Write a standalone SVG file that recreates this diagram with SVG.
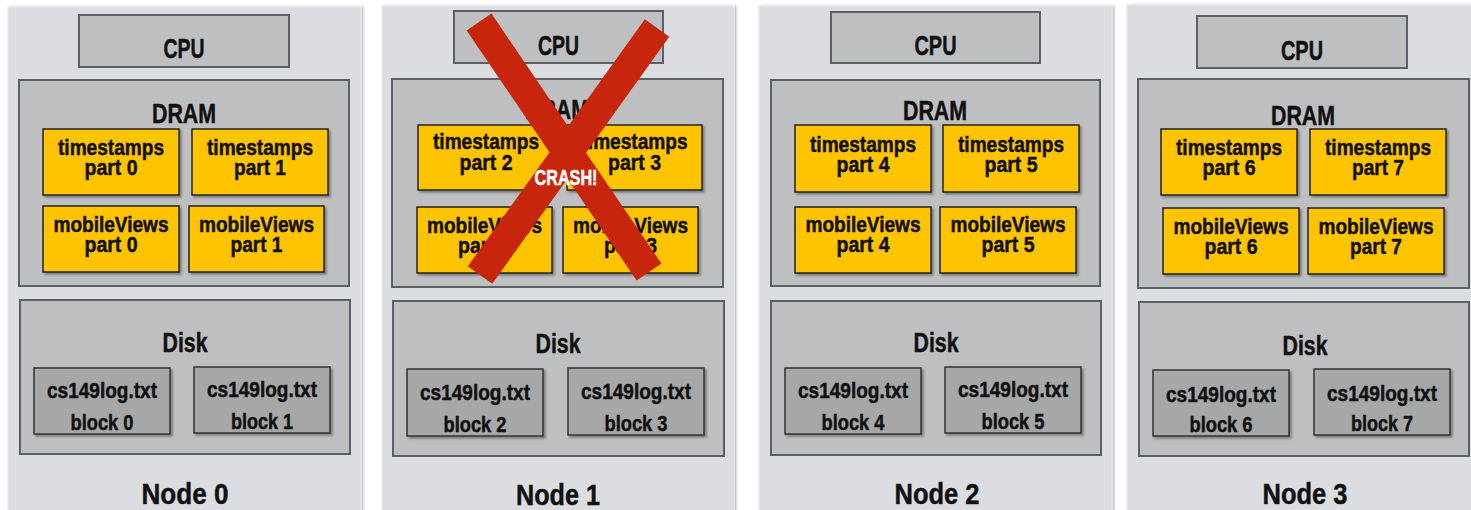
<svg xmlns="http://www.w3.org/2000/svg" width="1471" height="510" viewBox="0 0 1471 510">
<defs>
<filter id="sh" x="-5%" y="-5%" width="115%" height="120%"><feDropShadow dx="2" dy="2" stdDeviation="1" flood-color="#000" flood-opacity="0.35"/></filter>
<filter id="psh" x="-2%" y="-2%" width="104%" height="104%"><feDropShadow dx="2" dy="0" stdDeviation="1" flood-color="#000" flood-opacity="0.25"/></filter>
</defs>
<style>
text{font-family:"Liberation Sans",Arial,sans-serif;font-weight:bold;text-anchor:middle;fill:#111;stroke:#111;stroke-width:0.5}
.panel{fill:#dcdde0;stroke:#e6e7e9;stroke-width:1;filter:url(#psh)}
.unit{fill:#bebfc1;stroke:#5b6068;stroke-width:2}
.mem{fill:#ffc400;stroke:#222;stroke-width:1.5;filter:url(#sh)}
.blk{fill:#a6a8a8;stroke:#333;stroke-width:1.5;filter:url(#sh)}
.t1{font-size:28px}
.t2{font-size:22.5px}
.t3{font-size:30px}
.x{stroke:#c8260c;stroke-width:30;stroke-linecap:butt}
.crash{font-size:22px;fill:#fff;stroke:#fff}
</style>
<rect width="1471" height="510" fill="#fff"/>

<g id="node0">
<rect class="panel" x="8" y="7" width="353" height="510"/>
<rect class="unit" x="79" y="15" width="210" height="52"/>
<text class="t1" x="184" y="58" textLength="41" lengthAdjust="spacingAndGlyphs">CPU</text>
<rect class="unit" x="19" y="80" width="330" height="206"/>
<text class="t1" x="184" y="123" textLength="64" lengthAdjust="spacingAndGlyphs">DRAM</text>
<rect class="mem" x="43" y="129" width="136" height="66"/>
<text class="t2" x="111" y="155" textLength="106" lengthAdjust="spacingAndGlyphs">timestamps</text><text class="t2" x="111" y="175" textLength="53" lengthAdjust="spacingAndGlyphs">part 0</text>
<rect class="mem" x="192" y="129" width="136" height="66"/>
<text class="t2" x="260" y="155" textLength="106" lengthAdjust="spacingAndGlyphs">timestamps</text><text class="t2" x="260" y="175" textLength="52" lengthAdjust="spacingAndGlyphs">part 1</text>
<rect class="mem" x="43" y="206" width="136" height="66"/>
<text class="t2" x="111" y="232" textLength="115" lengthAdjust="spacingAndGlyphs">mobileViews</text><text class="t2" x="111" y="252" textLength="53" lengthAdjust="spacingAndGlyphs">part 0</text>
<rect class="mem" x="189" y="206" width="135" height="66"/>
<text class="t2" x="256.5" y="232" textLength="115" lengthAdjust="spacingAndGlyphs">mobileViews</text><text class="t2" x="256.5" y="252" textLength="52" lengthAdjust="spacingAndGlyphs">part 1</text>
<rect class="unit" x="20" y="300" width="330" height="154"/>
<text class="t1" x="185" y="352" textLength="45" lengthAdjust="spacingAndGlyphs">Disk</text>
<rect class="blk" x="34" y="368" width="136" height="66"/>
<text class="t2" x="102" y="398" textLength="110" lengthAdjust="spacingAndGlyphs">cs149log.txt</text><text class="t2" x="102" y="430" textLength="63" lengthAdjust="spacingAndGlyphs">block 0</text>
<rect class="blk" x="194" y="367" width="136" height="66"/>
<text class="t2" x="262" y="397" textLength="110" lengthAdjust="spacingAndGlyphs">cs149log.txt</text><text class="t2" x="262" y="429" textLength="62" lengthAdjust="spacingAndGlyphs">block 1</text>
<text class="t3" x="185" y="504" textLength="87" lengthAdjust="spacingAndGlyphs">Node 0</text>
</g>

<g id="node1">
<rect class="panel" x="382" y="6" width="352" height="510"/>
<rect class="unit" x="454" y="11" width="209" height="52"/>
<text class="t1" x="558.5" y="55" textLength="41" lengthAdjust="spacingAndGlyphs">CPU</text>
<rect class="unit" x="392" y="79" width="331" height="208"/>
<text class="t1" x="557" y="119" textLength="64" lengthAdjust="spacingAndGlyphs">DRAM</text>
<rect class="mem" x="418" y="125" width="136" height="65"/>
<text class="t2" x="486" y="149" textLength="106" lengthAdjust="spacingAndGlyphs">timestamps</text><text class="t2" x="486" y="170" textLength="53" lengthAdjust="spacingAndGlyphs">part 2</text>
<rect class="mem" x="567" y="125" width="135" height="65"/>
<text class="t2" x="634.5" y="149" textLength="106" lengthAdjust="spacingAndGlyphs">timestamps</text><text class="t2" x="634.5" y="170" textLength="53" lengthAdjust="spacingAndGlyphs">part 3</text>
<rect class="mem" x="417" y="207" width="135" height="66"/>
<text class="t2" x="484.5" y="233" textLength="115" lengthAdjust="spacingAndGlyphs">mobileViews</text><text class="t2" x="484.5" y="253" textLength="53" lengthAdjust="spacingAndGlyphs">part 2</text>
<rect class="mem" x="563" y="207" width="135" height="66"/>
<text class="t2" x="630.5" y="233" textLength="115" lengthAdjust="spacingAndGlyphs">mobileViews</text><text class="t2" x="630.5" y="253" textLength="53" lengthAdjust="spacingAndGlyphs">part 3</text>
<rect class="unit" x="393" y="301" width="331" height="155"/>
<text class="t1" x="558" y="353" textLength="45" lengthAdjust="spacingAndGlyphs">Disk</text>
<rect class="blk" x="407" y="369" width="136" height="67"/>
<text class="t2" x="475" y="400" textLength="110" lengthAdjust="spacingAndGlyphs">cs149log.txt</text><text class="t2" x="475" y="432" textLength="63" lengthAdjust="spacingAndGlyphs">block 2</text>
<rect class="blk" x="568" y="368" width="136" height="67"/>
<text class="t2" x="636" y="399" textLength="110" lengthAdjust="spacingAndGlyphs">cs149log.txt</text><text class="t2" x="636" y="431" textLength="63" lengthAdjust="spacingAndGlyphs">block 3</text>
<text class="t3" x="558" y="505" textLength="84" lengthAdjust="spacingAndGlyphs">Node 1</text>
</g>

<g id="node2">
<rect class="panel" x="759" y="6" width="353" height="510"/>
<rect class="unit" x="831" y="12" width="209" height="51"/>
<text class="t1" x="935.5" y="55" textLength="42" lengthAdjust="spacingAndGlyphs">CPU</text>
<rect class="unit" x="771" y="80" width="329" height="206"/>
<text class="t1" x="935" y="120" textLength="64" lengthAdjust="spacingAndGlyphs">DRAM</text>
<rect class="mem" x="795" y="125" width="136" height="67"/>
<text class="t2" x="863" y="152" textLength="106" lengthAdjust="spacingAndGlyphs">timestamps</text><text class="t2" x="863" y="172" textLength="53" lengthAdjust="spacingAndGlyphs">part 4</text>
<rect class="mem" x="943" y="125" width="136" height="67"/>
<text class="t2" x="1011" y="152" textLength="106" lengthAdjust="spacingAndGlyphs">timestamps</text><text class="t2" x="1011" y="172" textLength="53" lengthAdjust="spacingAndGlyphs">part 5</text>
<rect class="mem" x="795" y="207" width="136" height="66"/>
<text class="t2" x="863" y="232" textLength="115" lengthAdjust="spacingAndGlyphs">mobileViews</text><text class="t2" x="863" y="252" textLength="53" lengthAdjust="spacingAndGlyphs">part 4</text>
<rect class="mem" x="940" y="207" width="136" height="66"/>
<text class="t2" x="1008" y="232" textLength="115" lengthAdjust="spacingAndGlyphs">mobileViews</text><text class="t2" x="1008" y="252" textLength="53" lengthAdjust="spacingAndGlyphs">part 5</text>
<rect class="unit" x="771" y="301" width="330" height="154"/>
<text class="t1" x="936" y="352" textLength="45" lengthAdjust="spacingAndGlyphs">Disk</text>
<rect class="blk" x="785" y="368" width="136" height="66"/>
<text class="t2" x="853" y="398" textLength="110" lengthAdjust="spacingAndGlyphs">cs149log.txt</text><text class="t2" x="853" y="430" textLength="63" lengthAdjust="spacingAndGlyphs">block 4</text>
<rect class="blk" x="945" y="367" width="136" height="66"/>
<text class="t2" x="1013" y="397" textLength="110" lengthAdjust="spacingAndGlyphs">cs149log.txt</text><text class="t2" x="1013" y="429" textLength="63" lengthAdjust="spacingAndGlyphs">block 5</text>
<text class="t3" x="937" y="504" textLength="85" lengthAdjust="spacingAndGlyphs">Node 2</text>
</g>

<g id="node3">
<rect class="panel" x="1127" y="5" width="353" height="510"/>
<rect class="unit" x="1197" y="16" width="210" height="52"/>
<text class="t1" x="1302" y="60" textLength="42" lengthAdjust="spacingAndGlyphs">CPU</text>
<rect class="unit" x="1138" y="79" width="331" height="209"/>
<text class="t1" x="1303" y="125" textLength="64" lengthAdjust="spacingAndGlyphs">DRAM</text>
<rect class="mem" x="1161" y="129" width="136" height="66"/>
<text class="t2" x="1229" y="155" textLength="106" lengthAdjust="spacingAndGlyphs">timestamps</text><text class="t2" x="1229" y="175" textLength="53" lengthAdjust="spacingAndGlyphs">part 6</text>
<rect class="mem" x="1310" y="129" width="136" height="66"/>
<text class="t2" x="1378" y="155" textLength="106" lengthAdjust="spacingAndGlyphs">timestamps</text><text class="t2" x="1378" y="175" textLength="52" lengthAdjust="spacingAndGlyphs">part 7</text>
<rect class="mem" x="1163" y="208" width="136" height="66"/>
<text class="t2" x="1231" y="234" textLength="115" lengthAdjust="spacingAndGlyphs">mobileViews</text><text class="t2" x="1231" y="254" textLength="53" lengthAdjust="spacingAndGlyphs">part 6</text>
<rect class="mem" x="1308" y="208" width="136" height="66"/>
<text class="t2" x="1376" y="234" textLength="115" lengthAdjust="spacingAndGlyphs">mobileViews</text><text class="t2" x="1376" y="254" textLength="52" lengthAdjust="spacingAndGlyphs">part 7</text>
<rect class="unit" x="1139" y="302" width="330" height="154"/>
<text class="t1" x="1305" y="355" textLength="45" lengthAdjust="spacingAndGlyphs">Disk</text>
<rect class="blk" x="1153" y="370" width="136" height="66"/>
<text class="t2" x="1221" y="402" textLength="110" lengthAdjust="spacingAndGlyphs">cs149log.txt</text><text class="t2" x="1221" y="432" textLength="63" lengthAdjust="spacingAndGlyphs">block 6</text>
<rect class="blk" x="1314" y="369" width="136" height="66"/>
<text class="t2" x="1382" y="401" textLength="110" lengthAdjust="spacingAndGlyphs">cs149log.txt</text><text class="t2" x="1382" y="431" textLength="62" lengthAdjust="spacingAndGlyphs">block 7</text>
<text class="t3" x="1305" y="504" textLength="85" lengthAdjust="spacingAndGlyphs">Node 3</text>
</g>

<g id="crash">
<line class="x" x1="479" y1="22" x2="649" y2="272"/>
<line class="x" x1="657" y1="28" x2="480" y2="275"/>
<text class="crash" x="566" y="185" textLength="63" lengthAdjust="spacingAndGlyphs">CRASH!</text>
</g>
</svg>
